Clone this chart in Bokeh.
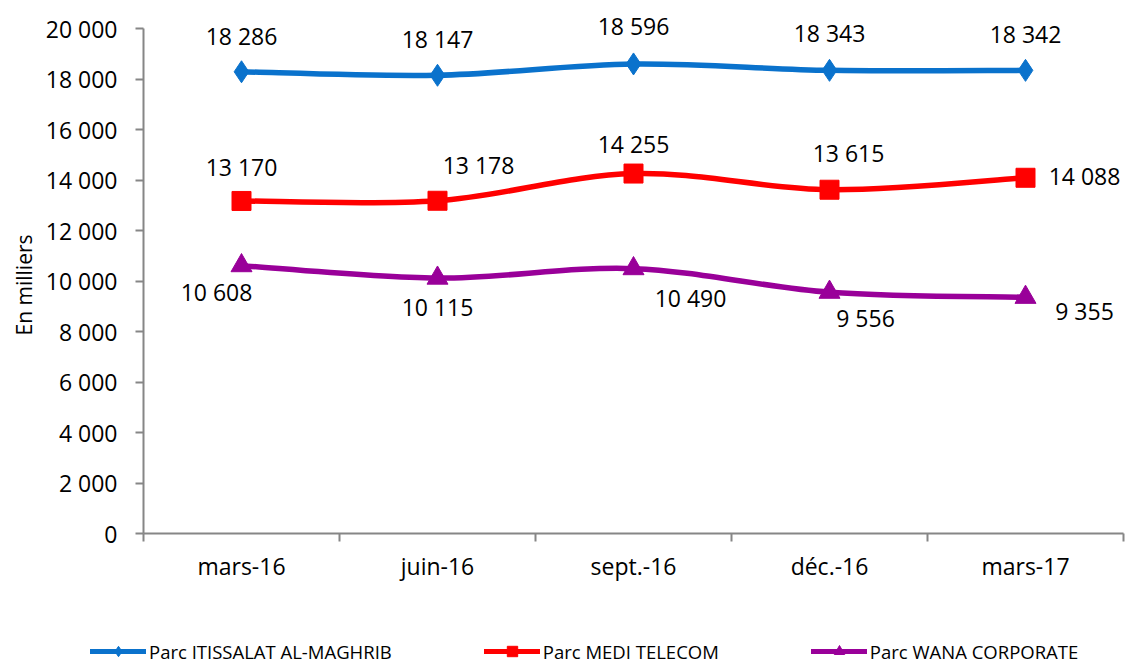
from bokeh.plotting import figure
from bokeh.models import FixedTicker, Legend, LegendItem, Range1d, Title
from bokeh.layouts import column
from bokeh.core.properties import value
from bokeh.embed import file_html
from bokeh.resources import INLINE

# ---------------- data ----------------
categories = ["mars-16", "juin-16", "sept.-16", "déc.-16", "mars-17"]
iam = [18286, 18147, 18596, 18343, 18342]
medi = [13170, 13178, 14255, 13615, 14088]
wana = [10608, 10115, 10490, 9556, 9355]
series_names = ["Parc ITISSALAT AL-MAGHRIB", "Parc MEDI TELECOM", "Parc WANA CORPORATE"]
y_ticks = [0, 2000, 4000, 6000, 8000, 10000, 12000, 14000, 16000, 18000, 20000]
y_tick_labels = ["0", "2 000", "4 000", "6 000", "8 000", "10 000", "12 000",
                 "14 000", "16 000", "18 000", "20 000"]
y_title = "En milliers"

# ---------------- styles ----------------
FONT = "Open Sans"
colors = ["#0A72CC", "#FF0000", "#990099"]
markers = ["diamond", "square", "triangle"]
msizes = [22, 19, 21]
# label offsets in screen px (dx, dy; dy positive = down)
label_offsets = [
    [(0, -36), (0, -36), (0, -38), (0, -37), (0, -36)],
    [(0, -34), (41, -36), (0, -30), (19, -37), (59, -2)],
    [(-25, 26), (0, 29), (57, 29), (36, 26), (59, 14)],
]

W, H = 1127, 664
FRAME_LEFT, FRAME_TOP_VAL_PX, ZERO_PX = 143, 28, 533
CAT_W = 196
MAIN_H = 620
LEG_H = H - MAIN_H

xs = list(range(1, len(categories) + 1))
y_max = y_ticks[-1]
px_per_unit = (ZERO_PX - FRAME_TOP_VAL_PX) / y_max
y_end = ZERO_PX / px_per_unit
x_end = 0.5 + (W - FRAME_LEFT) / CAT_W
NAN = float("nan")


def fmt(v):
    return f"{v:,}".replace(",", " ")


def smooth_segments(x, y):
    n = len(x)
    P = list(zip(x, y))
    ext = [P[0]] + P + [P[-1]]
    segs = dict(x0=[], y0=[], x1=[], y1=[], cx0=[], cy0=[], cx1=[], cy1=[])
    for i in range(n - 1):
        p0, p1, p2, p3 = ext[i], ext[i + 1], ext[i + 2], ext[i + 3]
        segs["x0"].append(p1[0]); segs["y0"].append(p1[1])
        segs["x1"].append(p2[0]); segs["y1"].append(p2[1])
        segs["cx0"].append(p1[0] + (p2[0] - p0[0]) / 6)
        segs["cy0"].append(p1[1] + (p2[1] - p0[1]) / 6)
        segs["cx1"].append(p2[0] - (p3[0] - p1[0]) / 6)
        segs["cy1"].append(p2[1] - (p3[1] - p1[1]) / 6)
    return segs


p = figure(width=W, height=MAIN_H, output_backend="svg", toolbar_location=None,
           x_range=Range1d(0.5, x_end), y_range=Range1d(0, y_end),
           min_border_left=FRAME_LEFT, min_border_right=0, min_border_top=0,
           min_border_bottom=MAIN_H - ZERO_PX)
p.outline_line_color = None
p.grid.visible = False
p.background_fill_color = "white"
p.border_fill_color = "white"

# legend figure
lg = figure(width=W, height=LEG_H, output_backend="svg", toolbar_location=None,
            x_range=Range1d(0, 1), y_range=Range1d(0, 1),
            x_axis_type=None, y_axis_type=None,
            min_border_left=0, min_border_right=0, min_border_top=0, min_border_bottom=0)
lg.frame_align = False
lg.outline_line_color = None
lg.grid.visible = False

items = []
for k, (vals, name) in enumerate(zip([iam, medi, wana], series_names)):
    segs = smooth_segments(xs, vals)
    p.bezier(x0=segs["x0"], y0=segs["y0"], x1=segs["x1"], y1=segs["y1"],
             cx0=segs["cx0"], cy0=segs["cy0"], cx1=segs["cx1"], cy1=segs["cy1"],
             line_color=colors[k], line_width=5.5, line_cap="round")
    p.scatter(x=xs, y=vals, marker=markers[k], size=msizes[k],
              fill_color=colors[k], line_color=colors[k])
    offs = label_offsets[k]
    p.text(x=xs, y=vals, text=[fmt(v) for v in vals],
           x_offset=[o[0] for o in offs], y_offset=[o[1] for o in offs],
           text_align="center", text_baseline="middle",
           text_font=value(FONT), text_font_size="23px", text_color="black")
    # legend proxies (nothing drawn in the legend strip's data area)
    lr = lg.line(x=[NAN, NAN], y=[NAN, NAN], line_color=colors[k], line_width=5,
                 line_cap="round")
    sr = lg.scatter(x=[NAN], y=[NAN], marker=markers[k], size=10,
                    fill_color=colors[k], line_color=colors[k])
    items.append(LegendItem(label=name, renderers=[lr, sr]))

# axes
ax_col = "#868686"
xa = p.xaxis[0]
xa.bounds = (0.5, 5.5)
xa.ticker = FixedTicker(ticks=xs, minor_ticks=[0.5 + i for i in range(len(categories) + 1)])
xa.major_label_overrides = {x: c for x, c in zip(xs, categories)}
xa.major_tick_out = 0
xa.major_tick_in = 0
xa.minor_tick_out = 8
xa.minor_tick_in = 0
xa.minor_tick_line_color = ax_col
xa.minor_tick_line_width = 2
xa.axis_line_color = ax_col
xa.axis_line_width = 2
xa.major_label_text_font = FONT
xa.major_label_text_font_size = "23px"
xa.major_label_text_color = "black"
xa.major_label_standoff = 8

ya = p.yaxis[0]
ya.bounds = (0, y_max)
ya.ticker = FixedTicker(ticks=y_ticks, minor_ticks=[])
ya.major_label_overrides = {t: l for t, l in zip(y_ticks, y_tick_labels)}
ya.major_tick_out = 8
ya.major_tick_in = 0
ya.major_tick_line_color = ax_col
ya.major_tick_line_width = 2
ya.axis_line_color = ax_col
ya.axis_line_width = 2
ya.major_label_text_font = FONT
ya.major_label_text_font_size = "23px"
ya.major_label_text_color = "black"
ya.major_label_standoff = 18

# y-axis title, centred on the 0..20 000 span of the axis
ytitle = Title(text=y_title, align="left", offset=198, standoff=10,
               text_font=FONT, text_font_size="21px", text_font_style="normal",
               text_color="black")
p.add_layout(ytitle, "left")

legend = Legend(items=items, location=(90, 0), orientation="horizontal",
                border_line_alpha=0, background_fill_alpha=0, padding=0, margin=0,
                spacing=92, glyph_width=56, glyph_height=26, label_standoff=3,
                label_text_font=FONT, label_text_font_size="18.5px",
                label_text_color="black")
lg.add_layout(legend, "center")

layout = column(p, lg, spacing=0)
open("out.html", "w").write(file_html(layout, INLINE))
